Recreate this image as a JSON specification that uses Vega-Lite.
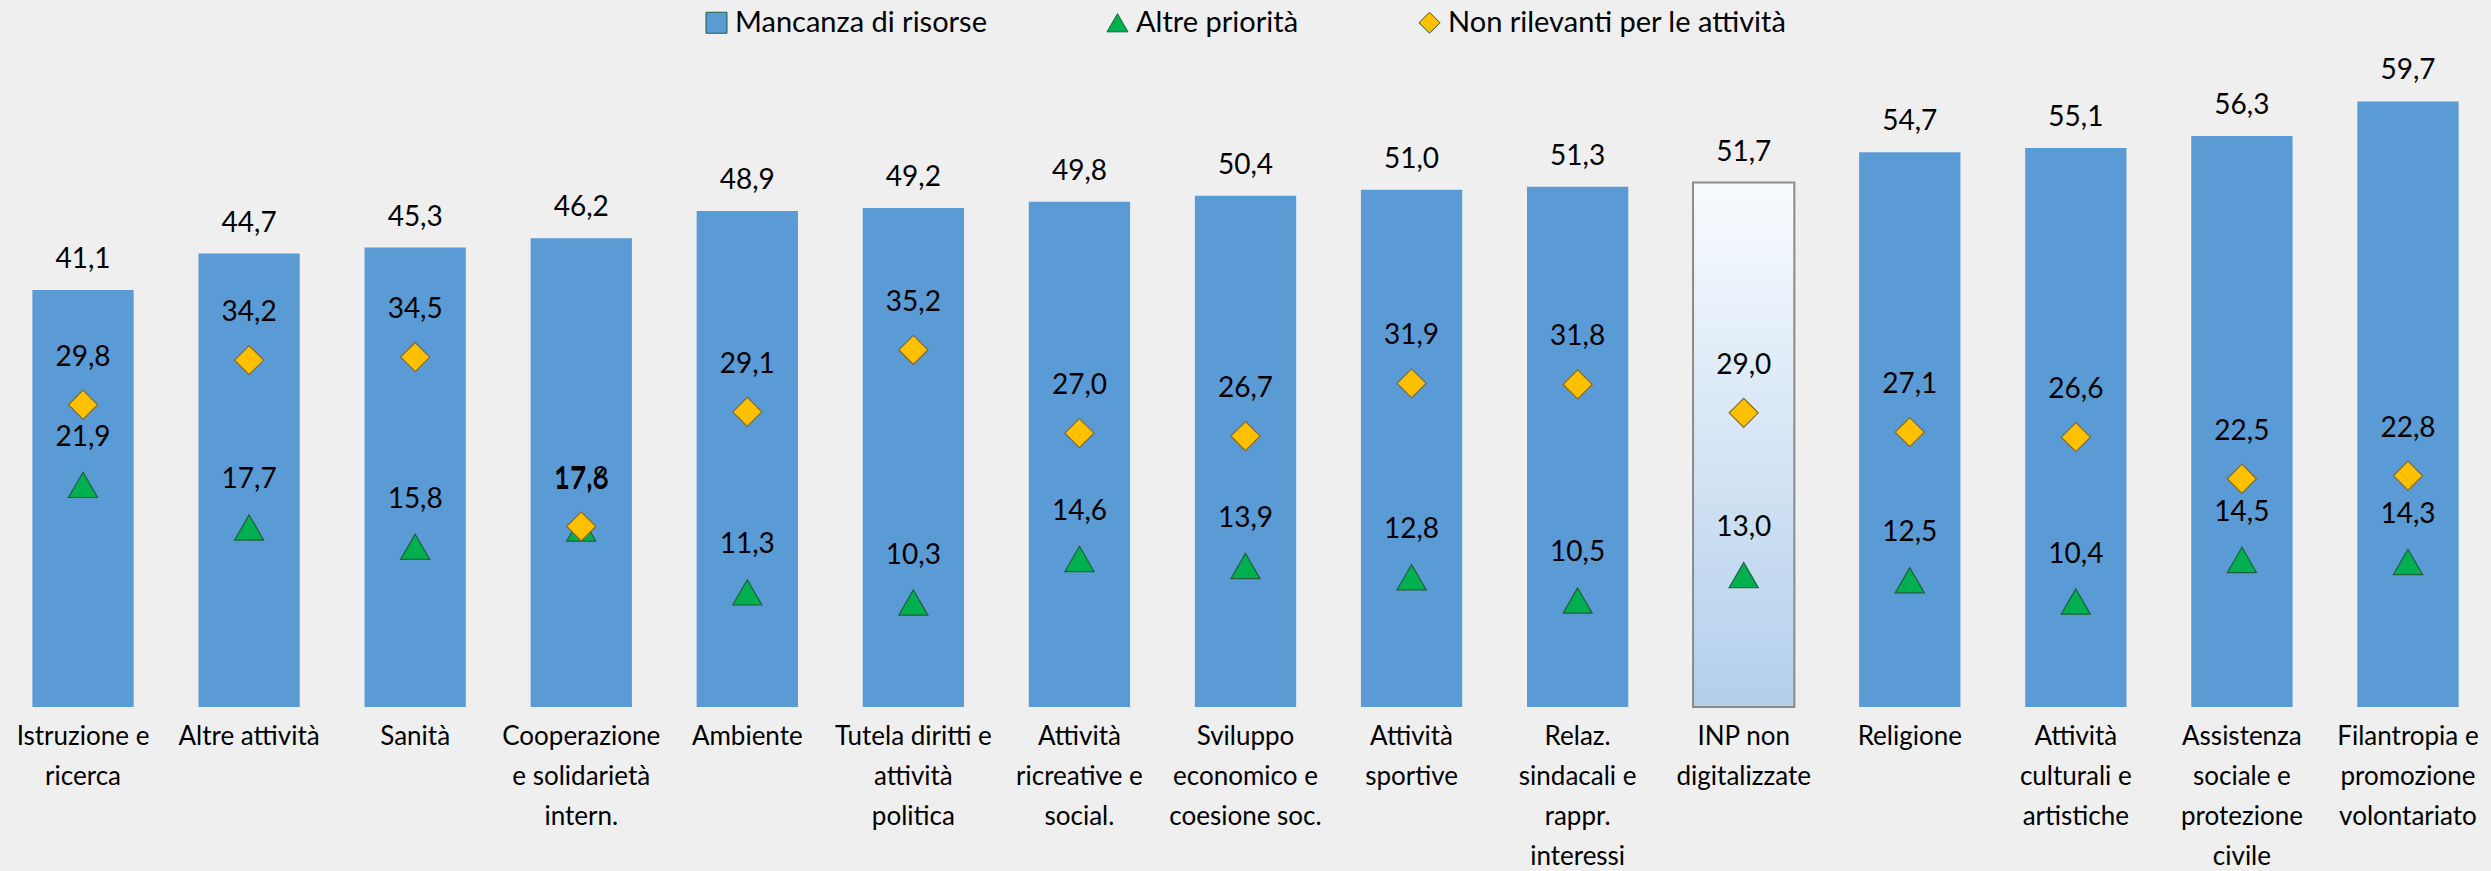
{
  "$schema": "https://vega.github.io/schema/vega-lite/v6.json",
  "width": 2491,
  "height": 707,
  "autosize": {"type": "none"},
  "padding": {"left": 0, "top": 0, "right": 0, "bottom": 164},
  "background": "#efefef",
  "config": {
    "view": {"stroke": null},
    "font": "Lato",
    "locale": {"number": {"decimal": ",", "thousands": ".", "grouping": [3], "currency": ["", " €"]}}
  },
  "data": {"values": [
    {"cat": "Istruzione e|ricerca", "serie": "Mancanza di risorse", "v": 41.1},
    {"cat": "Altre attività", "serie": "Mancanza di risorse", "v": 44.7},
    {"cat": "Sanità", "serie": "Mancanza di risorse", "v": 45.3},
    {"cat": "Cooperazione|e solidarietà|intern.", "serie": "Mancanza di risorse", "v": 46.2},
    {"cat": "Ambiente", "serie": "Mancanza di risorse", "v": 48.9},
    {"cat": "Tutela diritti e|attività|politica", "serie": "Mancanza di risorse", "v": 49.2},
    {"cat": "Attività|ricreative e|social.", "serie": "Mancanza di risorse", "v": 49.8},
    {"cat": "Sviluppo|economico e|coesione soc.", "serie": "Mancanza di risorse", "v": 50.4},
    {"cat": "Attività|sportive", "serie": "Mancanza di risorse", "v": 51.0},
    {"cat": "Relaz.|sindacali e|rappr.|interessi", "serie": "Mancanza di risorse", "v": 51.3},
    {"cat": "INP non|digitalizzate", "serie": "Mancanza di risorse", "v": 51.7},
    {"cat": "Religione", "serie": "Mancanza di risorse", "v": 54.7},
    {"cat": "Attività|culturali e|artistiche", "serie": "Mancanza di risorse", "v": 55.1},
    {"cat": "Assistenza|sociale e|protezione|civile", "serie": "Mancanza di risorse", "v": 56.3},
    {"cat": "Filantropia e|promozione|volontariato", "serie": "Mancanza di risorse", "v": 59.7},
    {"cat": "Istruzione e|ricerca", "serie": "Altre priorità", "v": 21.9},
    {"cat": "Altre attività", "serie": "Altre priorità", "v": 17.7},
    {"cat": "Sanità", "serie": "Altre priorità", "v": 15.8},
    {"cat": "Cooperazione|e solidarietà|intern.", "serie": "Altre priorità", "v": 17.6},
    {"cat": "Ambiente", "serie": "Altre priorità", "v": 11.3},
    {"cat": "Tutela diritti e|attività|politica", "serie": "Altre priorità", "v": 10.3},
    {"cat": "Attività|ricreative e|social.", "serie": "Altre priorità", "v": 14.6},
    {"cat": "Sviluppo|economico e|coesione soc.", "serie": "Altre priorità", "v": 13.9},
    {"cat": "Attività|sportive", "serie": "Altre priorità", "v": 12.8},
    {"cat": "Relaz.|sindacali e|rappr.|interessi", "serie": "Altre priorità", "v": 10.5},
    {"cat": "INP non|digitalizzate", "serie": "Altre priorità", "v": 13.0},
    {"cat": "Religione", "serie": "Altre priorità", "v": 12.5},
    {"cat": "Attività|culturali e|artistiche", "serie": "Altre priorità", "v": 10.4},
    {"cat": "Assistenza|sociale e|protezione|civile", "serie": "Altre priorità", "v": 14.5},
    {"cat": "Filantropia e|promozione|volontariato", "serie": "Altre priorità", "v": 14.3},
    {"cat": "Istruzione e|ricerca", "serie": "Non rilevanti per le attività", "v": 29.8},
    {"cat": "Altre attività", "serie": "Non rilevanti per le attività", "v": 34.2},
    {"cat": "Sanità", "serie": "Non rilevanti per le attività", "v": 34.5},
    {"cat": "Cooperazione|e solidarietà|intern.", "serie": "Non rilevanti per le attività", "v": 17.8},
    {"cat": "Ambiente", "serie": "Non rilevanti per le attività", "v": 29.1},
    {"cat": "Tutela diritti e|attività|politica", "serie": "Non rilevanti per le attività", "v": 35.2},
    {"cat": "Attività|ricreative e|social.", "serie": "Non rilevanti per le attività", "v": 27.0},
    {"cat": "Sviluppo|economico e|coesione soc.", "serie": "Non rilevanti per le attività", "v": 26.7},
    {"cat": "Attività|sportive", "serie": "Non rilevanti per le attività", "v": 31.9},
    {"cat": "Relaz.|sindacali e|rappr.|interessi", "serie": "Non rilevanti per le attività", "v": 31.8},
    {"cat": "INP non|digitalizzate", "serie": "Non rilevanti per le attività", "v": 29.0},
    {"cat": "Religione", "serie": "Non rilevanti per le attività", "v": 27.1},
    {"cat": "Attività|culturali e|artistiche", "serie": "Non rilevanti per le attività", "v": 26.6},
    {"cat": "Assistenza|sociale e|protezione|civile", "serie": "Non rilevanti per le attività", "v": 22.5},
    {"cat": "Filantropia e|promozione|volontariato", "serie": "Non rilevanti per le attività", "v": 22.8}
  ]},
  "encoding": {
    "x": {
      "field": "cat", "type": "nominal", "title": null,
      "scale": {"domain": ["Istruzione e|ricerca", "Altre attività", "Sanità", "Cooperazione|e solidarietà|intern.", "Ambiente", "Tutela diritti e|attività|politica", "Attività|ricreative e|social.", "Sviluppo|economico e|coesione soc.", "Attività|sportive", "Relaz.|sindacali e|rappr.|interessi", "INP non|digitalizzate", "Religione", "Attività|culturali e|artistiche", "Assistenza|sociale e|protezione|civile", "Filantropia e|promozione|volontariato"], "paddingInner": 0.39, "paddingOuter": 0.195},
      "axis": {"labelAngle": 0, "labelExpr": "split(datum.value, '|')", "labelFontSize": 26, "labelLineHeight": 40, "labelColor": "#000000", "labelBaseline": "top", "labelPadding": 16, "ticks": false, "domain": false, "labelLimit": 300, "labelFont": "Lato"}
    },
    "y": {"field": "v", "type": "quantitative", "scale": {"domain": [0, 69.7], "nice": false}, "axis": null}
  },
  "layer": [
    {
      "transform": [{"filter": "datum.serie == 'Mancanza di risorse' && datum.cat != 'INP non|digitalizzate'"}],
      "mark": {"type": "bar"},
      "encoding": {
        "color": {"field": "serie", "type": "nominal", "scale": {"domain": ["Mancanza di risorse", "Altre priorità", "Non rilevanti per le attività"], "range": ["#5b9bd5", "#00b050", "#ffc000"]},
          "legend": {"orient": "none", "direction": "horizontal", "legendX": 702, "legendY": 8, "title": null, "labelFontSize": 29, "labelColor": "#000000", "columnPadding": 116, "symbolSize": 440, "labelFont": "Lato", "labelLimit": 600, "symbolStrokeWidth": 1, "symbolStrokeColor": "#777777"}}
      }
    },
    {
      "transform": [{"filter": "datum.serie == 'Mancanza di risorse' && datum.cat == 'INP non|digitalizzate'"}],
      "mark": {"type": "bar", "stroke": "#8a8a8a", "strokeWidth": 2,
        "fill": {"gradient": "linear", "x1": 0, "y1": 0, "x2": 0, "y2": 1, "stops": [{"offset": 0, "color": "#f8fbfe"}, {"offset": 1, "color": "#b3cfeb"}]}}
    },
    {
      "transform": [{"filter": "datum.serie == 'Mancanza di risorse'"}],
      "mark": {"type": "text", "fontSize": 28, "dy": -30, "baseline": "middle", "color": "#000000"},
      "encoding": {"text": {"field": "v", "type": "quantitative", "format": ".1f"}}
    },
    {
      "transform": [{"filter": "datum.serie == 'Altre priorità'"}],
      "mark": {"type": "point", "filled": true, "opacity": 1, "size": 850, "stroke": "#1f5f3a", "strokeWidth": 1.2},
      "encoding": {
        "color": {"field": "serie", "type": "nominal"},
        "shape": {"field": "serie", "type": "nominal", "scale": {"domain": ["Mancanza di risorse", "Altre priorità", "Non rilevanti per le attività"], "range": ["square", "triangle-up", "diamond"]},
          "legend": {"orient": "none", "direction": "horizontal", "legendX": 702, "legendY": 8, "title": null, "labelFontSize": 29, "labelColor": "#000000", "columnPadding": 116, "symbolSize": 440, "labelFont": "Lato", "labelLimit": 600, "symbolStrokeWidth": 1, "symbolStrokeColor": "#777777"}}
      }
    },
    {
      "transform": [{"filter": "datum.serie == 'Non rilevanti per le attività'"}],
      "mark": {"type": "point", "filled": true, "opacity": 1, "size": 850, "stroke": "#7a6a3a", "strokeWidth": 1.2},
      "encoding": {
        "color": {"field": "serie", "type": "nominal"},
        "shape": {"field": "serie", "type": "nominal"}
      }
    },
    {
      "transform": [{"filter": "datum.serie != 'Mancanza di risorse'"}],
      "mark": {"type": "text", "fontSize": 28, "dy": -47, "baseline": "middle", "color": "#000000"},
      "encoding": {"text": {"field": "v", "type": "quantitative", "format": ".1f"}}
    }
  ]
}
